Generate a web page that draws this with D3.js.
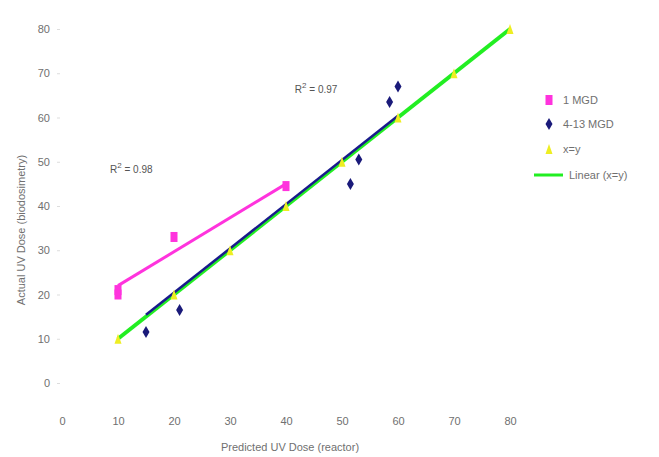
<!DOCTYPE html>
<html><head><meta charset="utf-8">
<script src="https://cdn.jsdelivr.net/npm/d3@7/dist/d3.min.js"></script>
<style>body{margin:0;background:#fff}svg{display:block}text{font-family:"Liberation Sans",Arial,sans-serif}</style>
</head><body><svg id="c" width="659" height="457"></svg>
<script>
const xTicks = [0,10,20,30,40,50,60,70,80];
const yTicks = [0,10,20,30,40,50,60,70,80];
const mgd1X = [10,10,20,40];
const mgd1Y = [20,21,33,44.5];
const mgd413X = [15,21,51.5,53,58.5,60];
const mgd413Y = [11.5,16.5,45,50.5,63.5,67];
const xyX = [10,20,30,40,50,60,70,80];
const xyY = [10,20,30,40,50,60,70,80];
const fit1X = [10,40], fit1Y = [22,45];
const fit413X = [15,60], fit413Y = [15.4,60.4];
const fitXYX = [10,80], fitXYY = [10,80];
const legendLabels = ["1 MGD","4-13 MGD","x=y","Linear (x=y)"];
const r2Labels = [{x:10,y:47.5,t:"0.98"},{x:43,y:65.5,t:"0.97"}];

const svg = d3.select("#c");
const x = d3.scaleLinear().domain([0,80]).range([62,510]);
const y = d3.scaleLinear().domain([0,80]).range([383,29]);
const txt = "#707070";

const xa = svg.append("g").attr("transform","translate(0,405)")
  .call(d3.axisBottom(x).tickValues(xTicks).tickSize(0).tickPadding(12));
xa.select(".domain").remove();
xa.selectAll("text").attr("fill",txt).attr("font-size",11);
const ya = svg.append("g").attr("transform","translate(60,0)")
  .call(d3.axisLeft(y).tickValues(yTicks).tickSize(3).tickPadding(7));
ya.select(".domain").remove();
ya.selectAll("line").attr("stroke","#ddd");
ya.selectAll("text").attr("fill",txt).attr("font-size",11);

svg.append("text").attr("x",290).attr("y",451).attr("text-anchor","middle")
  .attr("fill",txt).attr("font-size",11).text("Predicted UV Dose (reactor)");
svg.append("text").attr("transform","translate(25,230) rotate(-90)").attr("text-anchor","middle")
  .attr("fill",txt).attr("font-size",11).text("Actual UV Dose (biodosimetry)");

const line = d3.line().x(d=>x(d[0])).y(d=>y(d[1]));
svg.append("path").datum(d3.zip(fitXYX,fitXYY)).attr("d",line).attr("stroke","#22ee22").attr("stroke-width",4).attr("fill","none");
svg.append("path").datum(d3.zip(fit413X,fit413Y)).attr("d",line).attr("stroke","#1a1a8c").attr("stroke-width",2.5).attr("fill","none");
svg.append("path").datum(d3.zip(fit1X,fit1Y)).attr("d",line).attr("stroke","#ff33dd").attr("stroke-width",3).attr("fill","none");

const diamond = (g,cx,cy)=>g.append("path").attr("d",`M${cx},${cy-6}L${cx+3.5},${cy}L${cx},${cy+6}L${cx-3.5},${cy}Z`).attr("fill","#1a1a7a");
const square = (g,cx,cy)=>g.append("rect").attr("x",cx-3.5).attr("y",cy-5).attr("width",7).attr("height",10).attr("fill","#ff33dd");
const tri = (g,cx,cy)=>g.append("path").attr("d",`M${cx},${cy-5}L${cx+3.5},${cy+5}L${cx-3.5},${cy+5}Z`).attr("fill","#eeee22");

const pts = svg.append("g");
xyX.forEach((v,i)=>tri(pts,x(v),y(xyY[i])));
mgd413X.forEach((v,i)=>diamond(pts,x(v),y(mgd413Y[i])));
mgd1X.forEach((v,i)=>square(pts,x(v),y(mgd1Y[i])));

r2Labels.forEach(r=>{
  const t = svg.append("text").attr("x",x(r.x)-8).attr("y",y(r.y)).attr("fill","#555").attr("font-size",10);
  t.append("tspan").text("R");
  t.append("tspan").attr("dy",-5).attr("font-size",8).text("2");
  t.append("tspan").attr("dy",5).text(" = "+r.t);
});

const lg = svg.append("g");
const ly = [100,124,149,175];
square(lg,549,ly[0]);
diamond(lg,549,ly[1]);
tri(lg,549,ly[2]);
lg.append("line").attr("x1",534).attr("x2",563).attr("y1",ly[3]).attr("y2",ly[3]).attr("stroke","#22ee22").attr("stroke-width",3);
legendLabels.forEach((l,i)=>lg.append("text").attr("x",i==3?569:563).attr("y",ly[i]+4).attr("fill",txt).attr("font-size",11).text(l));
</script></body></html>
